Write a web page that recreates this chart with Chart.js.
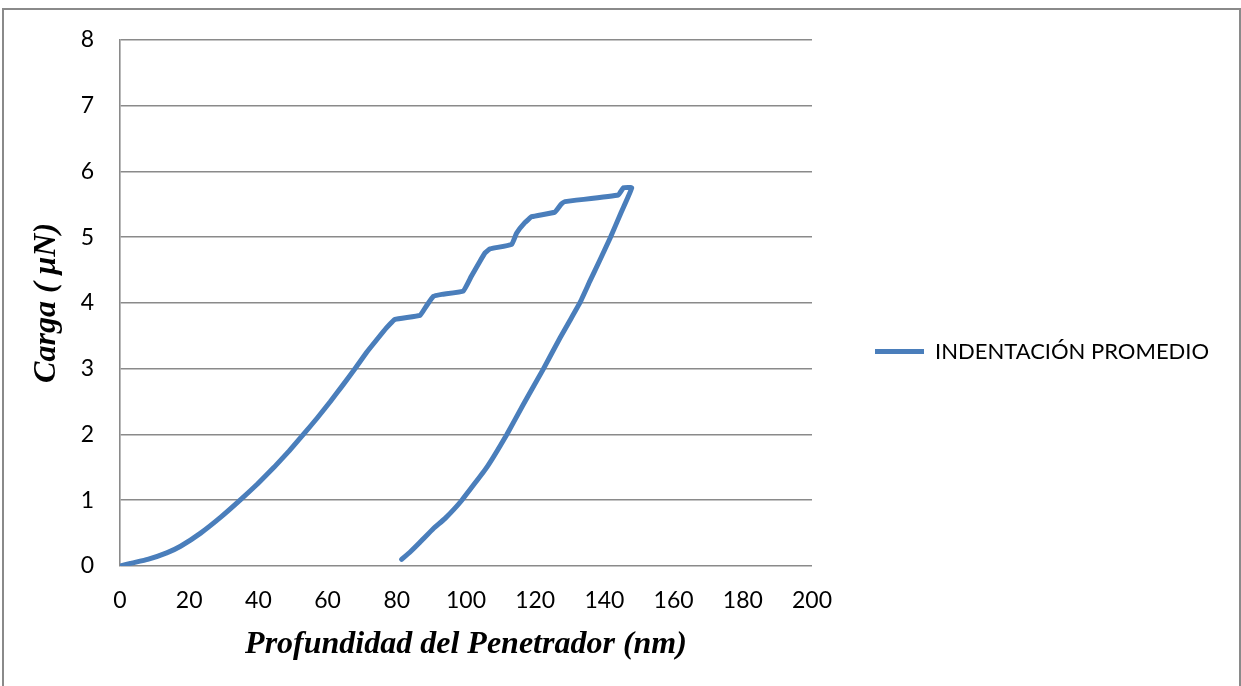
<!DOCTYPE html>
<html>
<head>
<meta charset="utf-8">
<script src="https://cdn.jsdelivr.net/npm/chart.js@4/dist/chart.umd.min.js"></script>
<style>
  html, body { margin: 0; padding: 0; background: #ffffff; }
  #wrap { width: 1241px; height: 686px; position: relative; }
</style>
</head>
<body>
<div id="wrap"><canvas id="grafico" width="1241" height="686"></canvas></div>
<script>
// Curva de indentación: carga (μN) frente a profundidad (nm), tramo de carga y de descarga
const profundidad = [
  0, 3, 8, 13.5, 17.5, 23.3, 29.3, 34.7, 39.8, 44.5, 48.9, 53, 57, 60.8, 64.4, 67.9, 71.3, 74.2, 77, 79.5,
  86.7, 88.5, 90.6, 93, 99.2, 101.5, 104, 105.5, 106.9, 113.2, 114.6, 117, 119, 125.7, 127.5, 128.6,
  144, 145.5, 147.9,
  144.8, 141.6, 138.5, 135.8, 132.9, 130, 127.2, 122.3, 116.6, 111.8, 106, 98.8, 93.9, 90.6, 86.7, 84, 81.4
];
const carga = [
  0, 0.04, 0.10, 0.20, 0.30, 0.50, 0.75, 1.00, 1.25, 1.50, 1.75, 2.00, 2.25, 2.50, 2.75, 3.00, 3.25, 3.44, 3.62, 3.75,
  3.81, 3.95, 4.10, 4.13, 4.18, 4.40, 4.63, 4.76, 4.82, 4.89, 5.06, 5.22, 5.31, 5.38, 5.50, 5.54,
  5.64, 5.75, 5.75,
  5.37, 4.98, 4.63, 4.33, 4.00, 3.73, 3.47, 2.99, 2.46, 2.00, 1.50, 1.00, 0.72, 0.57, 0.36, 0.22, 0.10
];
const nombreSerie = 'INDENTACIÓN PROMEDIO';
const tituloX = 'Profundidad del Penetrador (nm)';
const tituloY = 'Carga ( μN)';
const ejeXMin = 0, ejeXMax = 200, ejeXPaso = 20;
const ejeYMin = 0, ejeYMax = 8, ejeYPaso = 1;

const puntos = profundidad.map((x, i) => ({ x: x, y: carga[i] }));

const GRIS = '#8a8a8a';
const AZUL = '#4a7ebb';

// Fondo blanco y marco exterior del gráfico
const marco = {
  id: 'marco',
  beforeDraw(chart) {
    const ctx = chart.ctx;
    ctx.save();
    ctx.fillStyle = '#ffffff';
    ctx.fillRect(0, 0, chart.width, chart.height);
    ctx.strokeStyle = GRIS;
    ctx.lineWidth = 2;
    ctx.strokeRect(3, 9, 1237, 720);
    ctx.restore();
  }
};

new Chart(document.getElementById('grafico'), {
  type: 'scatter',
  data: {
    datasets: [{
      label: nombreSerie,
      data: puntos,
      showLine: true,
      borderColor: AZUL,
      backgroundColor: AZUL,
      borderWidth: 5,
      borderCapStyle: 'round',
      borderJoinStyle: 'round',
      pointRadius: 0,
      pointHoverRadius: 0,
      pointStyle: 'line',
      tension: 0.1
    }]
  },
  plugins: [marco],
  options: {
    responsive: false,
    animation: false,
    devicePixelRatio: 1,
    layout: { padding: { left: 20, top: 39, right: 24, bottom: 22 } },
    plugins: {
      tooltip: { enabled: false },
      legend: {
        position: 'right',
        align: 'center',
        maxWidth: 405,
        labels: {
          usePointStyle: true,
          pointStyle: 'line',
          pointStyleWidth: 49,
          padding: 63,
          color: '#000000',
          font: { family: 'Lato', size: 22 }
        }
      }
    },
    scales: {
      x: {
        type: 'linear',
        min: ejeXMin, max: ejeXMax,
        afterFit(s) { s.height = 98; },
        grid: { display: false, drawTicks: false },
        border: { display: false },
        ticks: {
          stepSize: ejeXPaso,
          padding: 21,
          color: '#000000',
          font: { family: 'Lato', size: 23 },
          maxRotation: 0
        },
        title: {
          display: true,
          text: tituloX,
          color: '#000000',
          font: { family: 'Liberation Serif', size: 32, style: 'italic', weight: 'bold' },
          padding: { top: 0, bottom: 0 }
        }
      },
      y: {
        type: 'linear',
        min: ejeYMin, max: ejeYMax,
        afterFit(s) { s.width = 100; },
        grid: { color: GRIS, lineWidth: 1.6, drawTicks: false },
        border: { display: true, color: GRIS, width: 1.6 },
        ticks: {
          stepSize: ejeYPaso,
          padding: 26,
          color: '#000000',
          font: { family: 'Lato', size: 23 }
        },
        title: {
          display: true,
          text: tituloY,
          color: '#000000',
          font: { family: 'Liberation Serif', size: 32, style: 'italic', weight: 'bold' },
          padding: { top: 8, bottom: 0 }
        }
      }
    }
  }
});
</script>
</body>
</html>
